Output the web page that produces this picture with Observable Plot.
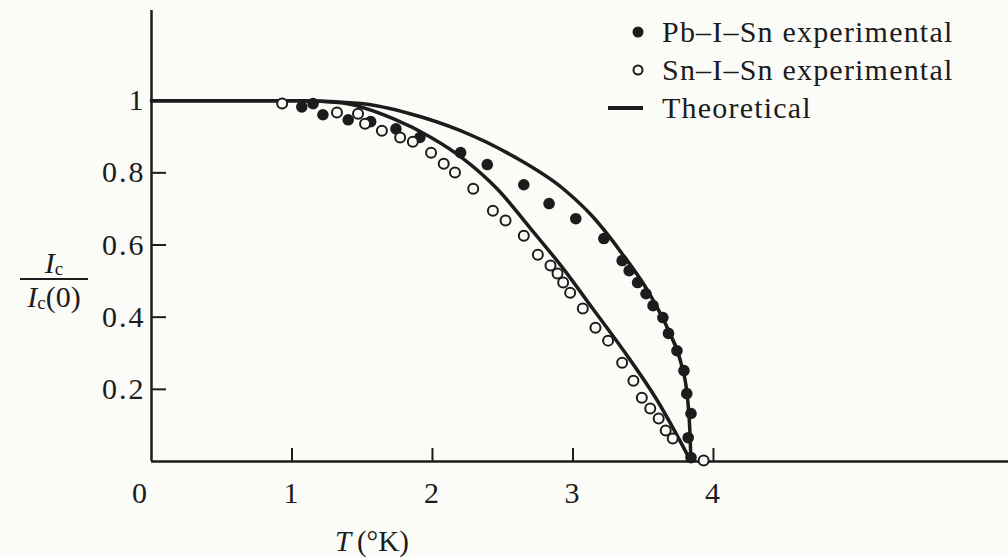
<!DOCTYPE html>
<html><head><meta charset="utf-8">
<script src="https://cdn.jsdelivr.net/npm/d3@7"></script>
<script src="https://cdn.jsdelivr.net/npm/@observablehq/plot@0.6"></script>
<style>
body{margin:0;background:#fbfbf8;}
#wrap{position:relative;width:1008px;height:557px;font-family:"Liberation Serif",serif;color:#1c1c1c;overflow:hidden;}
#wrap > svg{position:absolute;left:0;top:0;}
.leg{position:absolute;left:600px;top:13px;font-size:30px;letter-spacing:1.2px;}
.leg .row{display:flex;align-items:center;height:38px;}
.leg svg{margin-right:2px;flex:none;}
.ylab{position:absolute;left:20px;top:250px;width:68px;text-align:center;font-size:30px;}
.ylab .num{border-bottom:2px solid #1c1c1c;height:25px;line-height:25px;padding-bottom:3px;}
.ylab .den{line-height:30px;margin-top:2px;}
.ylab sub{font-size:19px;vertical-align:-2px;font-style:normal;line-height:0;}
.xlab{position:absolute;left:335px;top:525px;font-size:29px;white-space:nowrap;}
</style></head><body><div id="wrap"></div>
<script>
// Pb–I–Sn experimental (filled dots)
const pbT  = [1.07,1.15,1.22,1.40,1.56,1.74,1.91,2.20,2.39,2.65,2.83,3.02,3.22,3.35,3.40,3.46,3.52,3.57,3.64,3.68,3.74,3.79,3.81,3.84,3.82,3.84];
const pbIc = [0.983,0.992,0.961,0.947,0.942,0.922,0.898,0.856,0.823,0.767,0.715,0.673,0.618,0.557,0.529,0.496,0.465,0.432,0.399,0.355,0.307,0.252,0.188,0.133,0.066,0.011];
// Sn–I–Sn experimental (open circles)
const snT  = [0.93,1.32,1.47,1.52,1.64,1.77,1.86,1.99,2.08,2.16,2.29,2.43,2.52,2.65,2.75,2.84,2.89,2.93,2.98,3.07,3.16,3.25,3.35,3.43,3.49,3.55,3.61,3.66,3.71,3.93];
const snIc = [0.992,0.967,0.964,0.936,0.917,0.898,0.886,0.856,0.825,0.801,0.756,0.695,0.668,0.626,0.573,0.543,0.521,0.496,0.468,0.424,0.371,0.335,0.274,0.224,0.177,0.147,0.119,0.086,0.064,0.003];
// Theoretical curves
const thPbT  = [0,0.70,1.06,1.49,1.84,2.20,2.58,2.93,3.14,3.35,3.54,3.68,3.77,3.815,3.832,3.84];
const thPbIc = [1,1,1,0.992,0.964,0.917,0.845,0.756,0.679,0.576,0.468,0.363,0.271,0.177,0.086,0];
const thSnT  = [0,0.70,1.06,1.35,1.72,1.99,2.22,2.46,2.70,2.92,3.14,3.37,3.60,3.84];
const thSnIc = [1,1,1,0.994,0.950,0.898,0.839,0.756,0.645,0.540,0.424,0.302,0.169,0];
// ticks
const xTicks = [1,2,3,4];
const xZero = [0];
const yTicks = [0.2,0.4,0.6,0.8,1];
const yTickMarks = [0.2,0.4,0.6,0.8];

const ink = "#1c1c1c";
const pb = pbT.map((t,i)=>({T:t, v:pbIc[i]}));
const sn = snT.map((t,i)=>({T:t, v:snIc[i]}));
const thPb = thPbT.map((t,i)=>({T:t, v:thPbIc[i]}));
const thSn = thSnT.map((t,i)=>({T:t, v:thSnIc[i]}));

const chart = Plot.plot({
  width:1008, height:557,
  marginLeft:151, marginRight:0, marginTop:10, marginBottom:96,
  style:{background:"transparent", fontFamily:"'Liberation Serif', serif", color:ink, letterSpacing:"2px"},
  x:{domain:[0,6.1]},
  y:{domain:[0,1.25]},
  marks:[
    Plot.axisX(xTicks, {tickSize:13, dy:-13, fill:"none", stroke:ink, strokeWidth:2, label:null}),
    Plot.axisX(xTicks, {tickSize:0, tickPadding:20, label:null, fontSize:30, fill:ink, tickFormat:d=>String(d)}),
    Plot.text(xZero, {x:d=>d, y:0, text:d=>String(d), dx:-11, dy:32, fontSize:30, fill:ink}),
    Plot.axisY(yTickMarks, {tickSize:15, dx:15, fill:"none", stroke:ink, strokeWidth:2, label:null}),
    Plot.axisY(yTicks, {tickSize:0, tickPadding:6, label:null, fontSize:30, fill:ink, tickFormat:d=>String(d)}),
    Plot.ruleY([0], {stroke:ink, strokeWidth:2.5}),
    Plot.ruleX([0], {stroke:ink, strokeWidth:2.5}),
    Plot.line(thPb, {x:"T", y:"v", stroke:ink, strokeWidth:3.5, curve:"monotone-x"}),
    Plot.line(thSn, {x:"T", y:"v", stroke:ink, strokeWidth:3.5, curve:"monotone-x"}),
    Plot.dot(pb, {x:"T", y:"v", r:5.8, fill:ink, stroke:"none"}),
    Plot.dot(sn, {x:"T", y:"v", r:5, fill:"#fbfbf8", stroke:ink, strokeWidth:2}),
  ]
});
const wrap = document.getElementById("wrap");
wrap.appendChild(chart);

const leg = document.createElement("div");
leg.className = "leg";
leg.innerHTML = `
<div class="row"><svg width="60" height="20"><circle cx="38" cy="10" r="5.5" fill="${ink}"/></svg>Pb–I–Sn experimental</div>
<div class="row"><svg width="60" height="20"><circle cx="38" cy="10" r="4.5" fill="none" stroke="${ink}" stroke-width="2"/></svg>Sn–I–Sn experimental</div>
<div class="row"><svg width="60" height="20"><line x1="8" x2="43" y1="10" y2="10" stroke="${ink}" stroke-width="4"/></svg>Theoretical</div>`;
wrap.appendChild(leg);

const yl = document.createElement("div");
yl.className = "ylab";
yl.innerHTML = `<div class="num"><i>I</i><sub>c</sub></div><div class="den"><i>I</i><sub>c</sub>(0)</div>`;
wrap.appendChild(yl);

const xl = document.createElement("div");
xl.className = "xlab";
xl.innerHTML = `<i>T</i>&#8201;(°K)`;
wrap.appendChild(xl);
</script></body></html>
